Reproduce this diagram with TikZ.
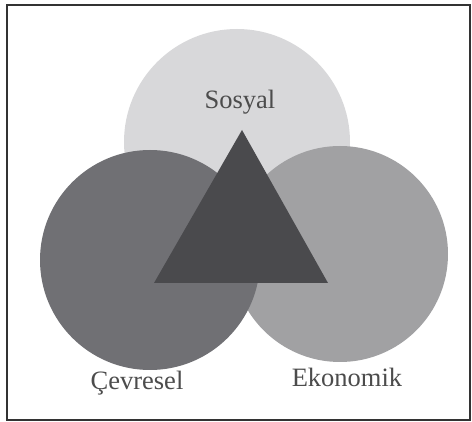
\documentclass[tikz,border=0pt]{standalone}
\usepackage{fontspec}
\setmainfont{Liberation Serif}
\begin{document}
\begin{tikzpicture}[x=1pt,y=-1pt]

      \tikzset{disc/.style={circle, inner sep=0pt, draw=none},
               lbl/.style={font=\fontsize{26.5}{29}\selectfont, text=black!70}}
      \definecolor{sosyalc}{HTML}{D8D8DA}
      \definecolor{cevrec}{HTML}{707074}
      \definecolor{ekoc}{HTML}{A1A1A3}
      \definecolor{ucgenc}{HTML}{4A4A4D}
      \useasboundingbox (0,0) rectangle (472,422);
%% Frame
      	\draw[line width=2pt, black!80] (7,5) rectangle (470,420);
%% Circles
      	\node[disc, fill=sosyalc, minimum size=226pt] (sosyal) at (237,142) {};
      	\node[disc, fill=ekoc, minimum size=216pt] (ekonomik) at (340,254) {};
      	\node[disc, fill=cevrec, minimum size=220pt] (cevresel) at (150,260) {};
%% Triangle
      	\coordinate (t1) at (242,130);
      	\coordinate (t2) at (154,283);
      	\coordinate (t3) at (328,283);
      	\fill[ucgenc] (t1) -- (t2) -- (t3) -- cycle;
%Labels
		\node[lbl] (ls) at (240,102) {Sosyal};
		\node[lbl] (lc) at (137,383) {Çevresel};
		\node[lbl] (le) at (347,377) {Ekonomik};

	\end{tikzpicture}
\end{document}
